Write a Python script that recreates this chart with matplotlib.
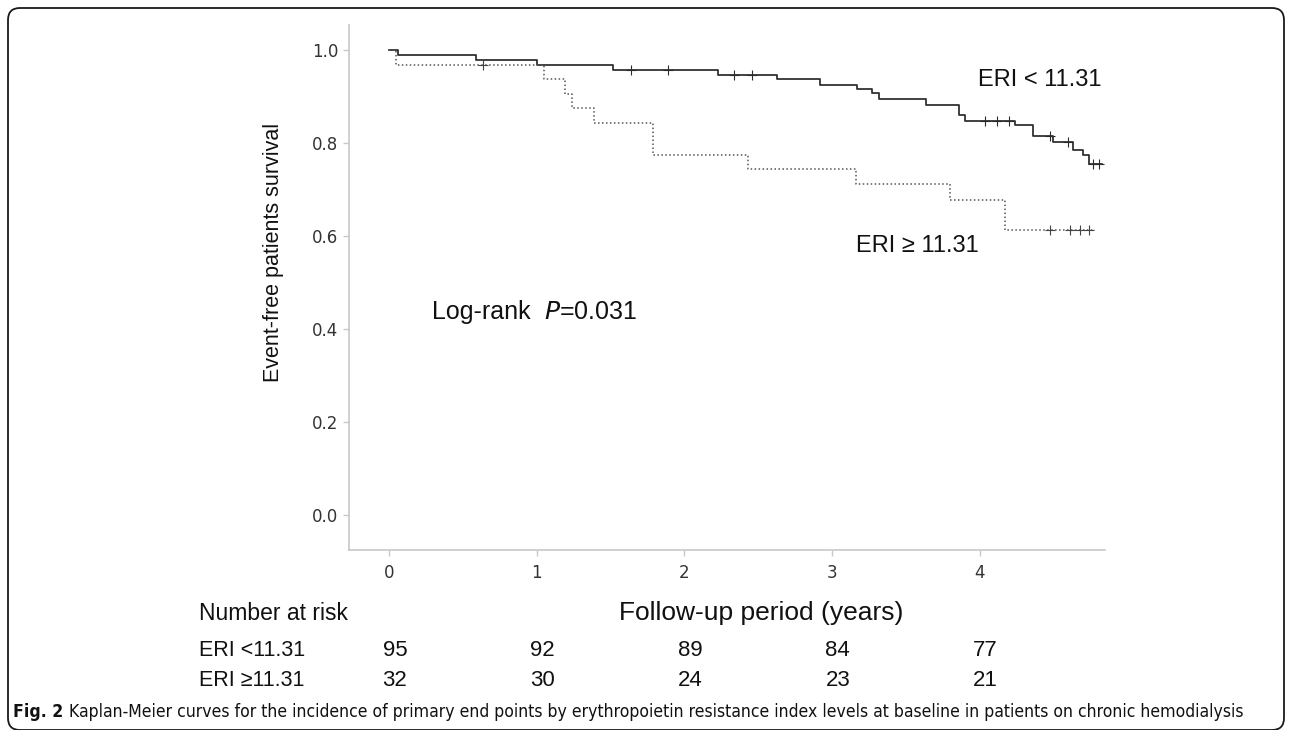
import numpy as np
import matplotlib
matplotlib.use("Agg")
import matplotlib.pyplot as plt
import matplotlib.transforms as mtransforms
from matplotlib.patches import FancyBboxPatch

# Kaplan-Meier steps (years, survival)
low_times = [0, 0.06, 0.59, 1.00, 1.52, 2.23, 2.63, 2.92, 3.17, 3.27, 3.32, 3.64,
             3.86, 3.90, 4.24, 4.36, 4.50, 4.63, 4.70, 4.74, 4.83]
low_surv = [1.0, 0.990, 0.979, 0.969, 0.958, 0.947, 0.937, 0.925, 0.916, 0.907, 0.895, 0.882,
            0.860, 0.848, 0.838, 0.816, 0.803, 0.786, 0.774, 0.755, 0.755]
low_censor = [1.64, 1.89, 2.34, 2.46, 4.04, 4.12, 4.20, 4.48, 4.60, 4.77, 4.81]

high_times = [0, 0.05, 1.05, 1.19, 1.24, 1.39, 1.79, 2.43, 3.16, 3.80, 4.17, 4.78]
high_surv = [1.0, 0.969, 0.938, 0.906, 0.875, 0.844, 0.775, 0.744, 0.711, 0.678, 0.613, 0.613]
high_censor = [0.64, 4.48, 4.61, 4.68, 4.74]

# number at risk table
risk_years = [0, 1, 2, 3, 4]
risk_low = [95, 92, 89, 84, 77]
risk_high = [32, 30, 24, 23, 21]

W, H = 1292, 730
fig = plt.figure(figsize=(W / 100, H / 100), dpi=100)

# rounded frame around the whole panel (bottom edge sits on the picture's edge)
bg = fig.add_axes([0, 0, 1, 1])
bg.set_xlim(0, W)
bg.set_ylim(H, 0)
bg.axis("off")
bg.add_patch(FancyBboxPatch((8, 8), W - 16, H - 8, boxstyle="round,pad=0,rounding_size=12",
                            fill=False, ec="#1a1a1a", lw=1.3))

ax = fig.add_axes([349 / W, 1 - 550 / H, (1105 - 349) / W, (550 - 25) / H])
ax.set_xlim(-0.271, 4.85)
ax.set_ylim(-0.075, 1.054)


def step_value(times, surv, t):
    i = np.searchsorted(times, t, side="right") - 1
    return np.asarray(surv)[i]


ax.step(low_times, low_surv, where="post", color="#2a2a2a", lw=1.25)
ax.plot(low_censor, step_value(low_times, low_surv, low_censor), "+", color="#2a2a2a",
        ms=7, mew=0.8)
ax.step(high_times, high_surv, where="post", color="#555555", lw=1.1, linestyle=(0, (1, 1.6)))
ax.plot(high_censor, step_value(high_times, high_surv, high_censor), "+", color="#444444",
        ms=7, mew=0.8)

for side in ["top", "right"]:
    ax.spines[side].set_visible(False)
for side in ["left", "bottom"]:
    ax.spines[side].set_color("#c8c8c8")
    ax.spines[side].set_linewidth(1.2)
ax.set_xticks(risk_years)
ax.set_yticks([0, 0.2, 0.4, 0.6, 0.8, 1.0])
ax.set_yticklabels(["0.0", "0.2", "0.4", "0.6", "0.8", "1.0"])
ax.tick_params(colors="#c8c8c8", labelcolor="#333333", labelsize=12, length=4, width=1)
ax.tick_params(axis="x", pad=6)

sans = ["Liberation Sans", "DejaVu Sans"]
ink = "#111111"
ax.text(-0.78, 0.565, "Event-free patients survival", rotation=90, ha="center", va="center",
        fontsize=15.5, family=sans, color=ink)
ax.text(3.99, 0.935, "ERI < 11.31", ha="left", va="center", fontsize=17, family=sans, color=ink)
ax.text(3.16, 0.578, "ERI \u2265 11.31", ha="left", va="center", fontsize=17, family=sans, color=ink)
ax.text(0.29, 0.436, "Log-rank", ha="left", va="center", fontsize=18, family=sans, color=ink)
ax.text(1.05, 0.436, "$\\mathit{P}$=0.031", ha="left", va="center", fontsize=18, family=sans,
        color=ink)

# risk table below the axis
tr = mtransforms.blended_transform_factory(ax.transData, fig.transFigure)
ax.text(-1.29, 1 - 613 / H, "Number at risk", transform=tr, ha="left", va="center",
        fontsize=16.5, family=sans, color=ink, clip_on=False)
ax.text(2.52, 1 - 613 / H, "Follow-up period (years)", transform=tr, ha="center", va="center",
        fontsize=19, family=sans, color=ink, clip_on=False)
ax.text(-1.29, 1 - 650 / H, "ERI <11.31", transform=tr, ha="left", va="center",
        fontsize=15.5, family=sans, color=ink, clip_on=False)
ax.text(-1.29, 1 - 680 / H, "ERI \u226511.31", transform=tr, ha="left", va="center",
        fontsize=15.5, family=sans, color=ink, clip_on=False)
for yr, a, b in zip(risk_years, risk_low, risk_high):
    ax.text(yr + 0.04, 1 - 650 / H, str(a), transform=tr, ha="center", va="center",
            fontsize=16, family=sans, color=ink, clip_on=False)
    ax.text(yr + 0.04, 1 - 680 / H, str(b), transform=tr, ha="center", va="center",
            fontsize=16, family=sans, color=ink, clip_on=False)

# caption: bold label then regular text, sized to span the panel width
cap_y = 1 - 712 / H
cap_size = 13.5
t1 = fig.text(13 / W, cap_y, "Fig. 2", ha="left", va="center", fontsize=cap_size,
              family=["DejaVu Sans"], fontstretch="condensed", weight="bold", color=ink)
t2 = fig.text(0.5, cap_y,
              "Kaplan-Meier curves for the incidence of primary end points by erythropoietin "
              "resistance index levels at baseline in patients on chronic hemodialysis",
              ha="left", va="center", fontsize=cap_size, family=["DejaVu Sans"],
              fontstretch="condensed", color=ink)
fig.canvas.draw()
w_total = t1.get_window_extent().width + 6 + t2.get_window_extent().width
scale = min(1.0, (1240 - 13) / w_total)
t1.set_fontsize(cap_size * scale)
t2.set_fontsize(cap_size * scale)
fig.canvas.draw()
t2.set_x((t1.get_window_extent().x1 + 6 * scale) / W)

fig.savefig("out.png", dpi=100)
